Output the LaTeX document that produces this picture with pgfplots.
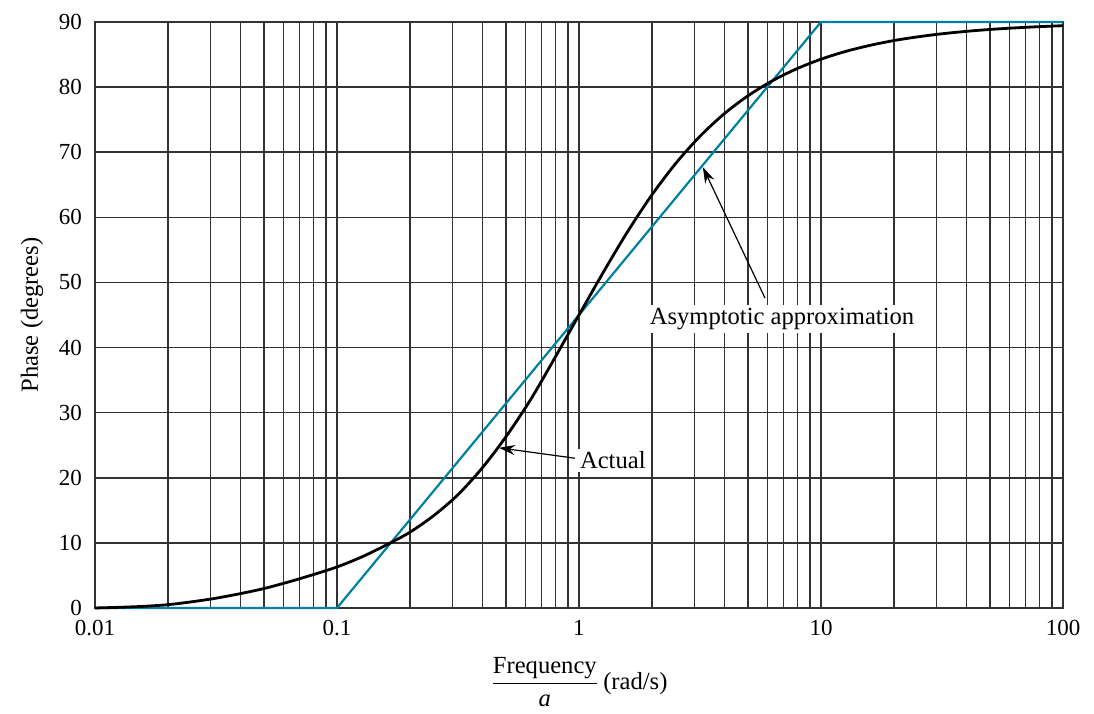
\documentclass[border=0pt]{standalone}
\usepackage{pgfplots}
\pgfplotsset{compat=1.18}
\usepackage{amsmath}
\usepackage{fontspec}
\setmainfont{Liberation Serif}
\usetikzlibrary{arrows.meta}
\definecolor{asym}{RGB}{0,128,160}
\definecolor{gridc}{RGB}{50,50,50}
\pgfplotstableread{
w phase
0.01 0.0
0.01259 0.1
0.01585 0.25
0.01995 0.5
0.02512 0.95
0.03162 1.5
0.03981 2.2
0.05012 3.0
0.06310 4.0
0.07943 5.1
0.1 6.3
0.1259 7.8
0.1585 9.6
0.1995 11.6
0.2512 14.2
0.3162 17.4
0.3981 21.5
0.5012 26.4
0.6310 32.0
0.7943 38.4
1 45.0
1.259 51.53
1.585 57.75
1.995 63.37
2.512 68.29
3.162 72.45
3.981 75.90
5.012 78.71
6.310 80.99
7.943 82.82
10 84.29
12.59 85.46
15.85 86.39
19.95 87.14
25.12 87.72
31.62 88.19
39.81 88.56
50.12 88.86
63.10 89.09
79.43 89.28
100 89.43
}\actual
\pgfplotstableread{
w phase
0.01 0
0.1 0
10 90
100 90
}\asymp
\begin{document}
\begin{tikzpicture}
\begin{axis}[
  name=ax,
  xmode=log,
  scale only axis,
  width=484pt, height=293pt,
  xmin=0.01, xmax=100, ymin=0, ymax=90,
  xtick={0.01,0.1,1,10,100},
  xticklabels={0.01,0.1,1,10,100},
  ytick={0,10,...,90},
  minor y tick num=0,
  grid=both,
  major grid style={gridc, line width=0.75pt},
  minor grid style={gridc, line width=0.75pt},
  axis line style={gridc, line width=0.75pt},
  tick style={draw=none},
  major tick length=0pt, minor tick length=0pt,
  tick label style={font=\fontsize{11.5}{13}\selectfont},
  /pgf/number format/assume math mode=true,
  xticklabel style={yshift=-2.5pt},
  yticklabel style={xshift=-3pt},
  xlabel={$\dfrac{\text{Frequency}}{\text{\textit{a}}}$\,(rad/s)},
  ylabel={Phase (degrees)},
  label style={font=\fontsize{12.3}{14}\selectfont},
  xlabel style={yshift=-4pt},
  ylabel style={yshift=1pt},
  clip=false,
]
\addplot[asym, line width=1.1pt] table[x=w,y=phase]{\asymp};
\addplot[black, line width=1.4pt, smooth] table[x=w,y=phase]{\actual};
\node[fill=white, inner sep=1.5pt, font=\fontsize{12.3}{14}\selectfont] at (axis cs:6.9,44.4) {Asymptotic approximation};
\node[fill=white, inner sep=1.5pt, font=\fontsize{12.3}{14}\selectfont] at (axis cs:1.38,22.7) {Actual};
\draw[black, line width=0.6pt, -{Stealth[length=8pt,width=5pt]}] (axis cs:5.87,47.6) -- (axis cs:3.25,67.7);
\draw[black, line width=0.6pt, -{Stealth[length=8pt,width=5pt]}] (axis cs:0.962,23.0) -- (axis cs:0.467,24.6);
\end{axis}
\path (ax.south west) ++(-47.5pt,-46.5pt) coordinate (bl);
\path (ax.north east) ++(15.5pt,11pt) coordinate (tr);
\useasboundingbox (bl) rectangle (tr);
\end{tikzpicture}
\end{document}
